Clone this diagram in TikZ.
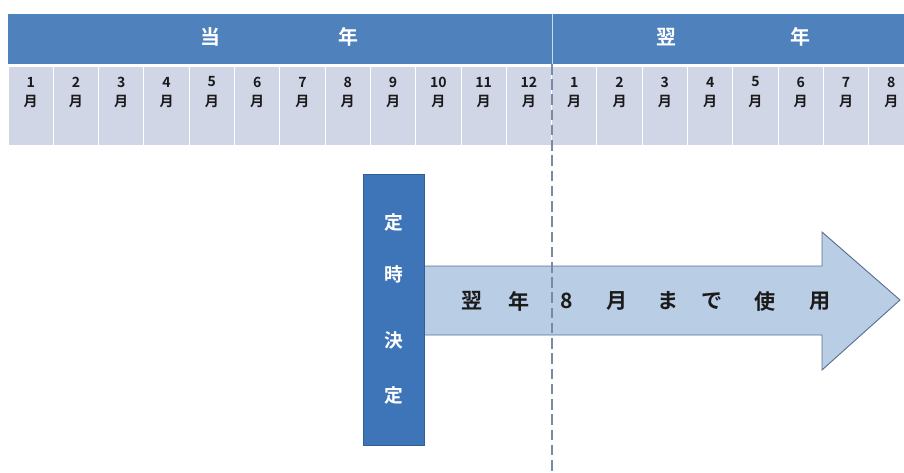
\documentclass[tikz,border=0pt]{standalone}
\usepackage{fontspec}
\newfontfamily\jp{Noto Sans CJK JP Bold}
\setmainfont{Noto Sans CJK JP Bold}
\definecolor{hdr}{HTML}{4F81BD}
\definecolor{cell}{HTML}{D0D6E6}
\definecolor{vbox}{HTML}{3E74B8}
\definecolor{vboxb}{HTML}{345F96}
\definecolor{arrfill}{HTML}{B9CDE5}
\definecolor{arrline}{HTML}{5A7090}
\definecolor{dashc}{HTML}{7A8AA5}
\definecolor{txt}{HTML}{1A1A1A}
\tikzset{
  hdrtext/.style={text=white,font=\jp\fontsize{17}{17}\selectfont},
  monthtext/.style={text=txt,font=\jp\fontsize{12}{12}\selectfont,inner sep=0pt},
  vtext/.style={text=white,font=\jp\fontsize{16}{16}\selectfont},
  arrtext/.style={text=txt,font=\jp\fontsize{18}{18}\selectfont},
}
\begin{document}
\begin{tikzpicture}[x=0.03cm,y=-0.03cm]
\useasboundingbox (0,0) rectangle (904,472);
\begin{scope}
\clip (0,0) rectangle (904,472);
% header band
\fill[hdr] (8,14) rectangle (914,64);
\draw[white!70!hdr,line width=0.6pt] (552,14) -- (552,64);
\node[hdrtext] (h1) at (210,37) {当};
\node[hdrtext] (h2) at (348,37) {年};
\node[hdrtext] (h3) at (666,37) {翌};
\node[hdrtext] (h4) at (800,37) {年};
% month cells
\foreach \i in {0,...,19} {
  \pgfmathsetmacro{\xl}{8+45.3*\i}
  \fill[cell,draw=white,line width=0.8pt] (\xl,66) rectangle (\xl+45.3,145);
}
\foreach \m [count=\i from 0] in {1,2,3,4,5,6,7,8,9,10,11,12,1,2,3,4,5,6,7,8} {
  \pgfmathsetmacro{\xc}{8+45.3*\i+22.65}
  \node[monthtext] (n\i) at (\xc,82) {\m};
  \node[monthtext] (m\i) at (\xc,101) {月};
}
% dashed divider
\coordinate (dtop) at (552,64);
\coordinate (dbot) at (552,472);
% arrow
\draw[arrline,fill=arrfill,line width=0.8pt,line join=miter]
  (424,266) -- (822,266) -- (822,232) -- (900,300) -- (822,370) -- (822,335) -- (424,335) -- cycle;
\draw[dashc,line width=1.2pt,dash pattern=on 9pt off 4pt] (dtop) -- (dbot);
% vertical box
\node[draw=vboxb,fill=vbox,line width=0.8pt,minimum width=61*0.03cm,minimum height=271*0.03cm,inner sep=0pt] (vb) at (393.5,309.5) {};
\node[vtext] (v1) at (393.5,222) {定};
\node[vtext] (v2) at (393.5,274) {時};
\node[vtext] (v3) at (393.5,340) {決};
\node[vtext] (v4) at (393.5,395) {定};
% arrow text
\node[arrtext] (a1) at (472,301) {翌};
\node[arrtext] (a2) at (519,301) {年};
\node[arrtext] (a3) at (567,301) {8};
\node[arrtext] (a4) at (617,301) {月};
\node[arrtext] (a5) at (668,301) {ま};
\node[arrtext] (a6) at (712,301) {で};
\node[arrtext] (a7) at (765,301) {使};
\node[arrtext] (a8) at (820,301) {用};
\end{scope}
\end{tikzpicture}
\end{document}
